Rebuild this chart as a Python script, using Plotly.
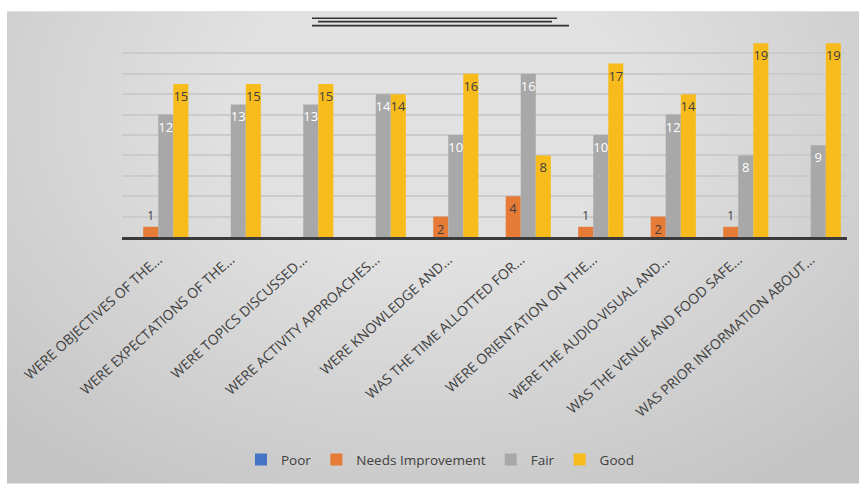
import plotly.graph_objects as go

# Survey questions (as shown, truncated) and response counts per rating
questions = [
    "WERE OBJECTIVES OF THE...",
    "WERE EXPECTATIONS OF THE...",
    "WERE TOPICS DISCUSSED...",
    "WERE ACTIVITY APPROACHES...",
    "WERE KNOWLEDGE AND...",
    "WAS THE TIME ALLOTTED FOR...",
    "WERE ORIENTATION ON THE...",
    "WERE THE AUDIO-VISUAL AND...",
    "WAS THE VENUE AND FOOD SAFE...",
    "WAS PRIOR INFORMATION ABOUT...",
]
poor = [0, 0, 0, 0, 0, 0, 0, 0, 0, 0]
needs_improvement = [1, 0, 0, 0, 2, 4, 1, 2, 1, 0]
fair = [12, 13, 13, 14, 10, 16, 10, 12, 8, 9]
good = [15, 15, 15, 14, 16, 8, 17, 14, 19, 19]

series = [
    ("Poor", poor, "#4472C4", "#404040"),
    ("Needs Improvement", needs_improvement, "#E57B37", "#404040"),
    ("Fair", fair, "#A8A8A8", "#FFFFFF"),
    ("Good", good, "#F7BC1C", "#404040"),
]

W, H = 859, 488
ML, MR, MT, MB = 122, 12, 33, 248
PW, PH = W - ML - MR, H - MT - MB


def px_x(v):
    return (v - ML) / PW


def px_y(v):
    return (H - MB - v) / PH


fig = go.Figure()
for name, vals, color, lab in series:
    fig.add_trace(go.Bar(
        name=name,
        x=questions,
        y=vals,
        marker=dict(color=color, line=dict(width=0)),
        text=[str(v) if v else "" for v in vals],
        textposition=["inside" if v >= 2 else "outside" for v in vals],
        insidetextanchor="end",
        constraintext="none",
        insidetextfont=dict(family="Open Sans", size=13, color=lab),
        outsidetextfont=dict(family="Open Sans", size=12, color="#404040"),
        cliponaxis=False,
    ))

shapes = []
# chart area fill with a soft radial highlight toward the top centre
shapes.append(dict(type="rect", xref="paper", yref="paper",
                   x0=px_x(7), x1=px_x(W + 2), y0=px_y(H + 2), y1=px_y(11),
                   fillcolor="#c4c4c4", line=dict(width=0), layer="below"))
n = 40
for i in range(n):
    f = 1 - i / n
    rx, ry = 40 + 560 * f, 30 + 420 * f
    cx, cy = 430, 110
    shapes.append(dict(type="circle", xref="paper", yref="paper",
                       x0=px_x(cx - rx), x1=px_x(cx + rx),
                       y0=px_y(cy + ry), y1=px_y(cy - ry),
                       fillcolor="white", opacity=0.032,
                       line=dict(width=0), layer="below"))
# title rules
for (xa, xb, yy) in [(312, 557, 18), (318, 552, 21.5), (312, 569, 25.5)]:
    shapes.append(dict(type="line", xref="paper", yref="paper",
                       x0=px_x(xa), x1=px_x(xb), y0=px_y(yy), y1=px_y(yy),
                       line=dict(color="#333333", width=1.6)))

fig.update_layout(
    width=W, height=H,
    margin=dict(l=ML, r=MR, t=MT, b=MB, pad=0),
    paper_bgcolor="white",
    plot_bgcolor="rgba(0,0,0,0)",
    barmode="group",
    bargap=0.17,
    bargroupgap=0,
    shapes=shapes,
    font=dict(family="Open Sans", color="#595959"),
    showlegend=True,
    legend=dict(orientation="h", x=px_x(440), xanchor="center",
                y=px_y(466), yanchor="middle",
                font=dict(family="Open Sans", size=13.5, color="#404040"),
                itemwidth=30, bgcolor="rgba(0,0,0,0)", traceorder="normal"),
    xaxis=dict(tickangle=-42, tickfont=dict(family="Open Sans", size=14, color="#404040"),
               ticklabelstandoff=6,
               showline=True, linecolor="#3a3a3a", linewidth=3,
               ticks="", showgrid=False),
    yaxis=dict(range=[0, 20], dtick=2, showticklabels=False, showgrid=True,
               gridcolor="#cbcbcb", gridwidth=2, zeroline=False, showline=False),
)

fig.write_html("out.html")
